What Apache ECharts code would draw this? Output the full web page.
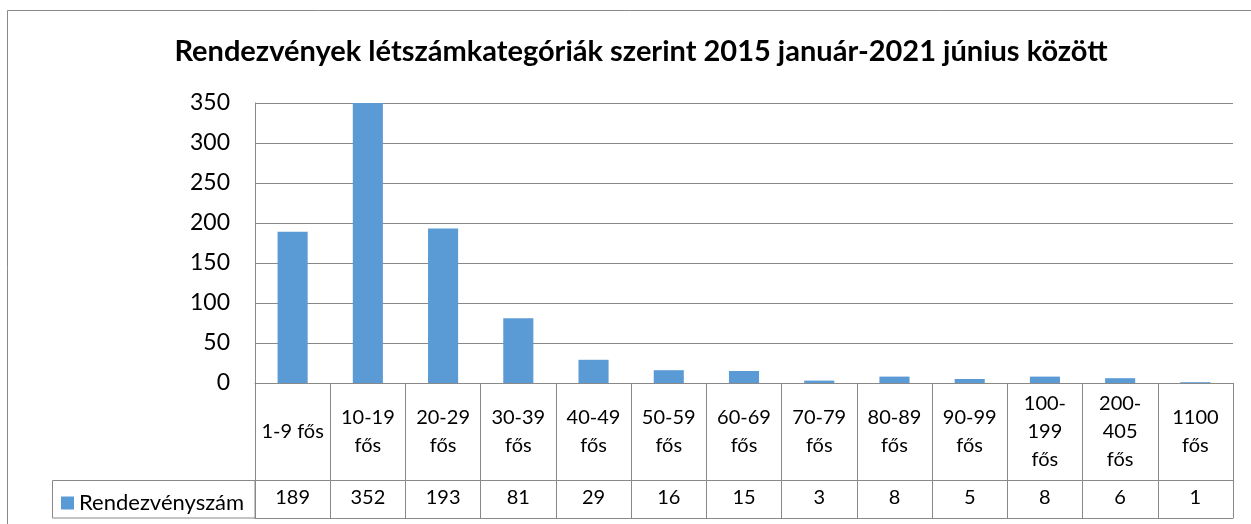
<!DOCTYPE html>
<html>
	<head>
		<meta charset="UTF-8">
		<title>Rendezvények létszámkategóriák szerint</title>
		<script type="text/javascript" src="https://cdn.jsdelivr.net/npm/echarts@6/dist/echarts.min.js"></script>
		<style>
			body { margin: 0; background: #fff; }
			#chart { width: 1251px; height: 524px; }
		</style>
	</head>
	<body>
		<div id="chart"></div>
		<script>
		// adatok
		var categories = ['1-9 fős', '10-19 fős', '20-29 fős', '30-39 fős', '40-49 fős', '50-59 fős', '60-69 fős',
			'70-79 fős', '80-89 fős', '90-99 fős', '100-199 fős', '200-405 fős', '1100 fős'];
		var counts = [189, 352, 193, 81, 29, 16, 15, 3, 8, 5, 8, 6, 1];
		var yTicks = [0, 50, 100, 150, 200, 250, 300, 350];
		var seriesName = 'Rendezvényszám';

		var font = 'Lato, sans-serif';
		var lineColor = '#898989';

		var chart = echarts.init(document.getElementById('chart'));

		var option = {
			animation: false,
			title: {
				text: 'Rendezvények létszámkategóriák szerint 2015 január-2021 június között',
				left: 636,
				textAlign: 'center',
				top: 32,
				textStyle: {
					fontFamily: font,
					fontSize: 29,
					fontWeight: 'bold',
					color: '#000'
				}
			},
			legend: {
				data: [seriesName],
				left: 56,
				top: 487,
				icon: 'rect',
				itemWidth: 13,
				itemHeight: 13,
				textStyle: { fontFamily: font, fontSize: 22, color: '#000' }
			},
			grid: {
				left: 255,
				right: 18,
				top: 103,
				bottom: 141
			},
			yAxis: {
				type: 'value',
				min: yTicks[0],
				max: yTicks[yTicks.length - 1],
				interval: yTicks[1] - yTicks[0],
				axisLine: { show: true, lineStyle: { color: lineColor } },
				axisTick: { show: false },
				axisLabel: { fontFamily: font, fontSize: 23, color: '#000', margin: 25 },
				splitLine: { lineStyle: { color: lineColor } }
			},
			xAxis: [{
				// kategória sor (táblázat felső sora)
				type: 'category',
				data: categories,
				position: 'bottom',
				axisLine: { lineStyle: { color: lineColor } },
				axisTick: { show: true, interval: 0, length: 135, lineStyle: { color: lineColor } },
				axisLabel: {
					interval: 0,
					margin: 49,
					verticalAlign: 'middle',
					fontFamily: font,
					fontSize: 20,
					lineHeight: 28,
					color: '#000',
					formatter: function(name) {
						if (name.length <= 7) return name;
						var parts = name.split(' ');
						var range = parts[0];
						if (range.length > 6) range = range.replace('-', '-\n');
						return range + '\n' + parts[1];
					}
				}
			}, {
				// értékek sora
				type: 'category',
				data: categories,
				position: 'bottom',
				offset: 97,
				axisLine: { lineStyle: { color: lineColor } },
				axisTick: { show: false },
				axisLabel: {
					interval: 0,
					margin: 18,
					verticalAlign: 'middle',
					fontFamily: font,
					fontSize: 20,
					color: '#000',
					formatter: function(name, idx) {
						return String(counts[idx]);
					}
				}
			}, {
				// táblázat alsó vonala
				type: 'category',
				data: categories,
				position: 'bottom',
				offset: 135,
				axisLine: { lineStyle: { color: lineColor } },
				axisTick: { show: false },
				axisLabel: { show: false }
			}],
			graphic: [{
				// diagram kerete
				type: 'rect',
				shape: { x: 7.5, y: 10.5, width: 1400, height: 700 },
				style: { fill: 'none', stroke: lineColor, lineWidth: 1 },
				silent: true
			}, {
				// jelmagyarázat cella
				type: 'rect',
				shape: { x: 52.5, y: 480.5, width: 202.5, height: 37.5 },
				style: { fill: 'none', stroke: lineColor, lineWidth: 1 },
				silent: true
			}],
			series: [{
				name: seriesName,
				type: 'bar',
				xAxisIndex: 0,
				barWidth: '40%',
				itemStyle: { color: '#5B9BD5' },
				data: counts
			}]
		};

		chart.setOption(option);
		</script>
	</body>
</html>
